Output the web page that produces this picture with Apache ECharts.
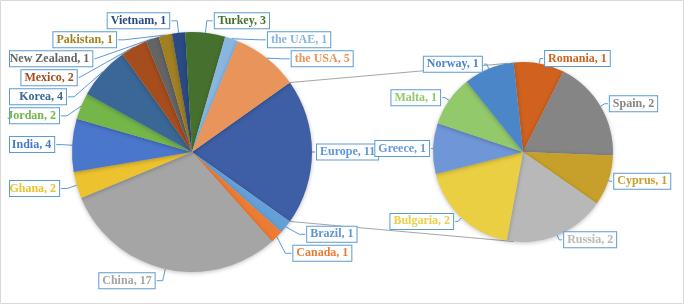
<!DOCTYPE html>
<html>
<head>
    <meta charset="utf-8">
    <script src="https://cdn.jsdelivr.net/npm/echarts@6/dist/echarts.min.js"></script>
    <style>
        body { margin: 0; background: #fff; }
    </style>
</head>
<body>
    <div id="main" style="width: 685px;height:306px;"></div>
    <script>
        // main pie, clockwise starting with the "Europe" slice at 3 o'clock
        var mainNames = ['Europe', 'Brazil', 'Canada', 'China', 'Ghana', 'India', 'Jordan', 'Korea',
            'Mexico', 'New Zealand', 'Pakistan', 'Vietnam', 'Turkey', 'the UAE', 'the USA'];
        var mainValues = [11, 1, 1, 17, 2, 4, 2, 4, 2, 1, 1, 1, 3, 1, 5];
        var mainColors = ['#3e5fa6', '#64a0d8', '#ec7b33', '#a5a5a5', '#ecc22f', '#4a76cc', '#74b648', '#3a6796',
            '#a64d1d', '#646464', '#a08020', '#2b4a82', '#46702e', '#88b6e0', '#e8945a'];
        var mainLabelColors = ['#5e95d6', '#5e95d6', '#ec7b33', '#a5a5a5', '#ecc22f', '#4a76cc', '#74b648', '#3a6796',
            '#a64d1d', '#646464', '#a08020', '#2b4a82', '#46702e', '#88b6e0', '#e8945a'];

        // second pie (breakdown of Europe), clockwise from the top
        var euNames = ['Romania', 'Spain', 'Cyprus', 'Russia', 'Bulgaria', 'Greece', 'Malta', 'Norway'];
        var euValues = [1, 2, 1, 2, 2, 1, 1, 1];
        var euColors = ['#d0611f', '#858585', '#c6a02a', '#b8b8b8', '#ebcf42', '#6f96d6', '#92c96a', '#4b86c8'];

        // shorter callout lines for a few labels that sit between the two pies
        var shortLines = { 'Europe': [3, 2], 'Greece': [1, 1], 'Cyprus': [2, 2] };

        var c1 = [192, 152], r1 = 120;
        var c2 = [523, 152], r2 = 90;

        var total = mainValues.reduce(function (a, b) { return a + b; }, 0);
        var half = mainValues[0] / total * Math.PI;   // half angle of Europe slice
        var startDeg = half * 180 / Math.PI;

        function makeData(names, values, colors, labelColors) {
            return names.map(function (n, i) {
                var item = {
                    name: n,
                    value: values[i],
                    itemStyle: { color: colors[i] },
                    label: { color: labelColors[i] }
                };
                if (shortLines[n]) {
                    item.labelLine = { length: shortLines[n][0], length2: shortLines[n][1] };
                }
                return item;
            });
        }

        var labelStyle = {
            show: true,
            position: 'outside',
            formatter: '{b}, {c}',
            fontFamily: 'Liberation Serif',
            fontWeight: 'bold',
            fontSize: 12,
            overflow: 'none',
            distanceToLabelLine: 2,
            backgroundColor: '#fff',
            borderColor: '#5b9bd5',
            borderWidth: 1,
            padding: [2, 3, 1, 3]
        };
        function lineStyle(len, len2) {
            return {
                show: true,
                length: len,
                length2: len2,
                lineStyle: { color: '#5b9bd5', width: 1 }
            };
        }

        // connector lines from the Europe slice edges to the second pie
        var a = 10 * Math.PI / 180, b = 6 * Math.PI / 180;
        var p1 = [c1[0] + r1 * Math.cos(half), c1[1] - r1 * Math.sin(half)];
        var p2 = [c1[0] + r1 * Math.cos(half), c1[1] + r1 * Math.sin(half)];
        var q1 = [c2[0] - r2 * Math.sin(a), c2[1] - r2 * Math.cos(a)];
        var q2 = [c2[0] - r2 * Math.sin(b), c2[1] + r2 * Math.cos(b)];

        var myChart = echarts.init(document.getElementById('main'));
        var option = {
            animation: false,
            graphic: [
                {
                    type: 'rect', z: -10, silent: true,
                    shape: { x: 0.5, y: 0.5, width: 683, height: 303 },
                    style: { fill: '#fff', stroke: '#d9d9d9', lineWidth: 1 }
                },
                {
                    type: 'line', z: 1, silent: true,
                    shape: { x1: p1[0], y1: p1[1], x2: q1[0], y2: q1[1] },
                    style: { stroke: '#a5a5a5', lineWidth: 1 }
                },
                {
                    type: 'line', z: 1, silent: true,
                    shape: { x1: p2[0], y1: p2[1], x2: q2[0], y2: q2[1] },
                    style: { stroke: '#a5a5a5', lineWidth: 1 }
                }
            ],
            series: [
                {
                    type: 'pie',
                    center: c1,
                    radius: r1,
                    startAngle: startDeg,
                    clockwise: true,
                    avoidLabelOverlap: true,
                    itemStyle: { shadowBlur: 4, shadowColor: 'rgba(0,0,0,0.25)', shadowOffsetY: 1 },
                    label: labelStyle,
                    labelLine: lineStyle(12, 6),
                    labelLayout: { hideOverlap: false },
                    data: makeData(mainNames, mainValues, mainColors, mainLabelColors)
                },
                {
                    type: 'pie',
                    center: c2,
                    radius: r2,
                    startAngle: 96,
                    clockwise: true,
                    avoidLabelOverlap: true,
                    itemStyle: { shadowBlur: 4, shadowColor: 'rgba(0,0,0,0.25)', shadowOffsetY: 1 },
                    label: labelStyle,
                    labelLine: lineStyle(5, 3),
                    labelLayout: { hideOverlap: false },
                    data: makeData(euNames, euValues, euColors, euColors)
                }
            ]
        };
        myChart.setOption(option);
    </script>
</body>
</html>
